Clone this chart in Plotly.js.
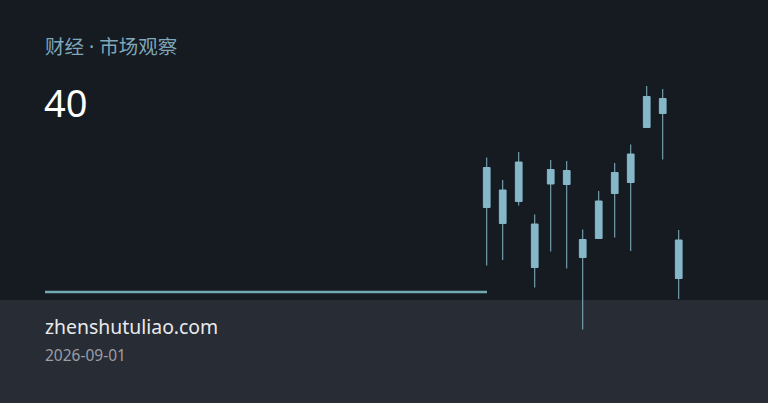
<!DOCTYPE html>
<html>
<head>
<meta charset="utf-8">
<script src="https://cdn.plot.ly/plotly-3.0.1.min.js"></script>
<style>
  html, body { margin: 0; padding: 0; background: #161a21; }
  #chart { width: 768px; height: 403px; }
</style>
</head>
<body>
<div id="chart"></div>
<script>
// candle data
var days = ['D1', 'D2', 'D3', 'D4', 'D5', 'D6', 'D7', 'D8', 'D9', 'D10', 'D11', 'D12', 'D13']
var openVals  = [44.5, 41.3, 45.7, 41.2, 49.2, 49.1, 34.5, 38.3, 47.3, 49.5, 60.5, 66.3, 38.0]
var closeVals = [52.5, 48.0, 53.6, 32.5, 52.1, 51.9, 38.1, 45.8, 51.5, 55.2, 66.7, 63.3, 30.3]
var highVals  = [54.5, 50.0, 55.6, 43.1, 54.0, 53.8, 40.1, 47.8, 53.4, 57.1, 68.8, 68.2, 40.0]
var lowVals   = [32.9, 34.0, 44.9, 28.5, 35.7, 32.3, 20.1, 38.3, 38.5, 35.8, 60.5, 54.1, 26.2]

var titleText = '财经 · 市场观察'
var bigValue = '40'
var siteText = 'zhenshutuliao.com'
var dateText = '2026-09-01'

var candleColor = '#86b7c8'

var trace = {
  type: 'candlestick',
  x: days,
  open: openVals,
  close: closeVals,
  high: highVals,
  low: lowVals,
  increasing: { line: { color: candleColor, width: 1 }, fillcolor: candleColor },
  decreasing: { line: { color: candleColor, width: 1 }, fillcolor: candleColor },
  hoverinfo: 'none'
}

var layout = {
  width: 768,
  height: 403,
  margin: { l: 0, r: 0, t: 80, b: 73 },
  paper_bgcolor: '#161a21',
  plot_bgcolor: 'rgba(0,0,0,0)',
  showlegend: false,
  boxgap: 0.4,
  xaxis: {
    type: 'category',
    range: [-30.42, 17.58],
    visible: false,
    fixedrange: true,
    rangeslider: { visible: false }
  },
  yaxis: {
    range: [20, 70],
    visible: false,
    fixedrange: true
  },
  shapes: [
    // footer band, px 300 -> 403
    {
      type: 'rect', xref: 'paper', yref: 'paper', layer: 'below',
      x0: 0, x1: 1, y0: -0.3, y1: 0.12,
      fillcolor: '#282c35', line: { width: 0 }
    },
    {
      type: 'line', xref: 'paper', yref: 'paper',
      x0: 45 / 768, x1: 487 / 768, y0: 38 / 250, y1: 38 / 250,
      line: { color: '#72a9b3', width: 2.5 }
    }
  ],
  annotations: [
    {
      text: titleText, xref: 'paper', yref: 'paper', x: 43 / 768, y: 1 + 33 / 250,
      xanchor: 'left', yanchor: 'middle', showarrow: false,
      font: { family: 'Noto Sans, Noto Sans CJK SC, sans-serif', size: 19.5, color: '#7ea8ba' }
    },
    {
      text: bigValue, xref: 'paper', yref: 'paper', x: 42 / 768, y: 1 - 22 / 250,
      xanchor: 'left', yanchor: 'middle', showarrow: false,
      font: { family: 'Noto Sans, sans-serif', size: 38, color: '#ffffff' }
    },
    {
      text: siteText, xref: 'paper', yref: 'paper', x: 43 / 768, y: 1 - 246 / 250,
      xanchor: 'left', yanchor: 'middle', showarrow: false,
      font: { family: 'Noto Sans, sans-serif', size: 19.4, color: '#e8e9ec' }
    },
    {
      text: dateText, xref: 'paper', yref: 'paper', x: 43 / 768, y: 1 - 275 / 250,
      xanchor: 'left', yanchor: 'middle', showarrow: false,
      font: { family: 'Noto Sans, sans-serif', size: 15.5, color: '#9a9ea6' }
    }
  ]
}

Plotly.newPlot('chart', [trace], layout, { displayModeBar: false, staticPlot: true })
</script>
</body>
</html>
